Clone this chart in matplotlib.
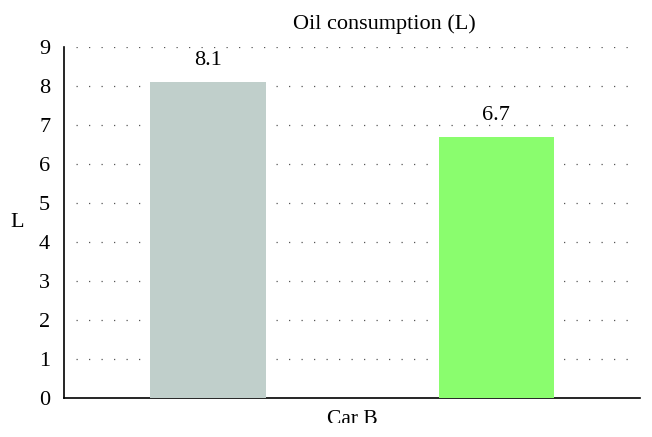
import matplotlib.pyplot as plt
from matplotlib.patches import Rectangle

plt.rcParams['font.family'] = ['Liberation Serif', 'DejaVu Serif']

# data
categories = ['Car A', 'Car B']
values = [8.1, 6.7]
colors = ['#c0cfcb', '#8afd6e']
y_ticks = list(range(0, 10))

fig = plt.figure(figsize=(6.52, 4.37), dpi=100)
ax = fig.add_axes([0.0982, 0.0892, 0.8838, 0.8032])

positions = [0.25, 0.75]
ax.bar(positions, values, width=0.2, color=colors, zorder=3)
for x, v in zip(positions, values):
    ax.annotate(f'{v}', (x, v), xytext=(0, 12), textcoords='offset points',
                ha='center', va='baseline', fontsize=16)

# dotted grid lines, not spanning the whole axes
for t in y_ticks[1:]:
    ax.axhline(t, xmin=0.02, xmax=0.985, color='#555555', linestyle=(0, (1, 9)),
               linewidth=0.9, zorder=1)

ax.set_xlim(0, 1)
ax.set_ylim(0, 9)
ax.set_yticks(y_ticks)
ax.set_xticks([])
ax.tick_params(axis='y', length=0, labelsize=16, pad=10)
for side in ['top', 'right']:
    ax.spines[side].set_visible(False)
ax.spines['left'].set_linewidth(1.2)
ax.spines['bottom'].set_linewidth(1.2)

ax.set_ylabel('L', rotation=0, fontsize=16, labelpad=16, va='center')
fig.text(0.589, 0.945, 'Oil consumption (L)', ha='center', va='center', fontsize=16)
fig.text(0.54, 0.062, 'Car B', ha='center', va='top', fontsize=15.5)
# the reference crops the bottom of the x label
fig.patches.append(Rectangle((0, 0), 1, 14 / 437, transform=fig.transFigure,
                             facecolor='white', edgecolor='none', zorder=10))

fig.savefig('out.png', dpi=100)
